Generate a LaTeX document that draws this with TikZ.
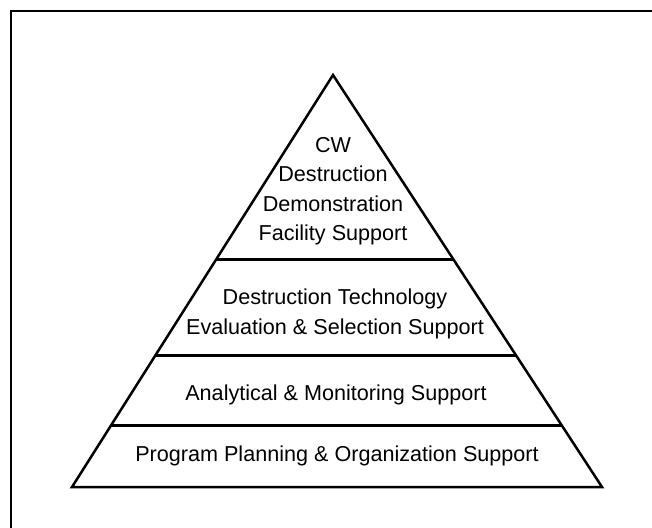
\documentclass[tikz,border=0pt]{standalone}
\usepackage{fontspec}
\setmainfont{Liberation Sans}
\usetikzlibrary{calc}
\tikzset{
	edge/.style={draw, line width=2.5pt, line join=miter},
	divider/.style={draw, line width=3pt},
	frame/.style={draw, line width=2pt},
	tier/.style={align=center, inner sep=0pt, font=\fontsize{21.6}{29.5}\selectfont},
}

\begin{document}
\begin{tikzpicture}[x=1pt, y=-1pt]
	\clip (0,0) rectangle (652,527);
	
	% outer frame (only top and left show)
	\draw[frame] (11,560) -- (11,11) -- (680,11);
	
	\coordinate (apex) at (333,75);
	\coordinate (bl) at (72,487);
	\coordinate (br) at (602,487);
	
	\coordinate (l1) at ($(apex)!0.449!(bl)$);
	\coordinate (r1) at ($(apex)!0.449!(br)$);
	\coordinate (l2) at ($(apex)!0.682!(bl)$);
	\coordinate (r2) at ($(apex)!0.682!(br)$);
	\coordinate (l3) at ($(apex)!0.850!(bl)$);
	\coordinate (r3) at ($(apex)!0.850!(br)$);
	
	\draw[edge] (apex) -- (bl) -- (br) -- cycle;
	\draw[divider] (l1) -- (r1);
	\draw[divider] (l2) -- (r2);
	\draw[divider] (l3) -- (r3);
	
	\node (top) [tier] at (333,191) {CW\\Destruction\\Demonstration\\Facility Support};
	\node (tech) [tier] at (335,314) {Destruction Technology\\Evaluation \& Selection Support};
	\node (anal) [tier] at (336,395) {Analytical \& Monitoring Support};
	\node (plan) [tier] at (337,456) {Program Planning \& Organization Support};
	
\end{tikzpicture}
\end{document}
